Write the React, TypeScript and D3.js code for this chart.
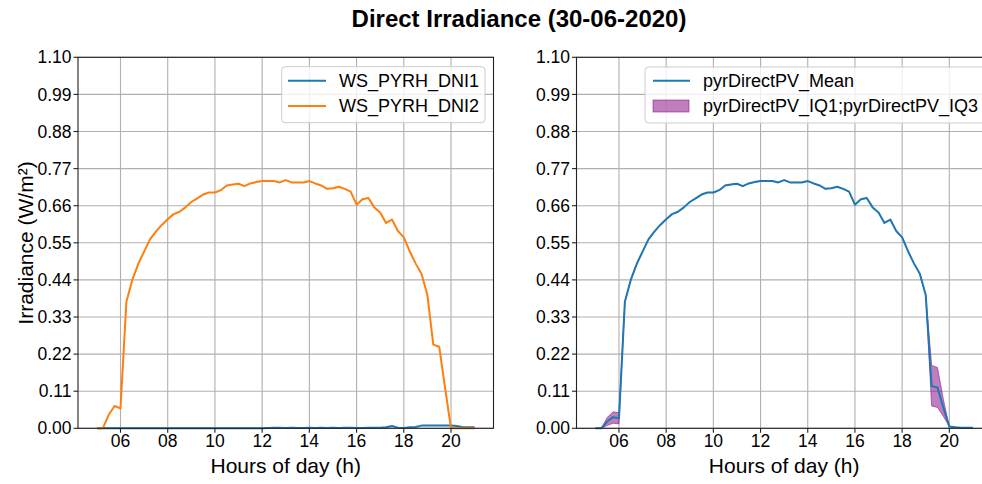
import React from "react";
import * as d3 from "d3";

const hours = [
  5.0, 5.25, 5.5, 5.75, 6.0, 6.25, 6.5, 6.75, 7.0, 7.25, 7.5, 7.75, 8.0, 8.25, 8.5, 8.75,
  9.0, 9.25, 9.5, 9.75, 10.0, 10.25, 10.5, 10.75, 11.0, 11.25, 11.5, 11.75, 12.0, 12.25, 12.5, 12.75,
  13.0, 13.25, 13.5, 13.75, 14.0, 14.25, 14.5, 14.75, 15.0, 15.25, 15.5, 15.75, 16.0, 16.25, 16.5, 16.75,
  17.0, 17.25, 17.5, 17.75, 18.0, 18.25, 18.5, 18.75, 19.0, 19.25, 19.5, 19.75, 20.0, 20.25, 20.5, 20.75, 21.0,
];

const dni1 = [
  0, 0, 0, 0, 0, 0, 0, 0, 0, 0, 0, 0, 0, 0, 0, 0,
  0, 0, 0, 0, 0, 0, 0, 0, 0, 0, 0, 0, 0, 0.001, 0.002, 0.002,
  0.001, 0.002, 0.001, 0.001, 0.002, 0.001, 0.002, 0.001, 0.002, 0.001, 0.002, 0.002, 0.001, 0.001, 0.002, 0.002,
  0.002, 0.003, 0.007, 0.002, 0.001, 0.003, 0.004, 0.008, 0.008, 0.008, 0.008, 0.008, 0.008, 0.007, 0.003, 0.003, 0.003,
];

const dni2 = [
  0, 0, 0.04, 0.066, 0.059, 0.375, 0.44, 0.487, 0.524, 0.56, 0.583, 0.603, 0.62, 0.635, 0.642, 0.655,
  0.671, 0.682, 0.693, 0.699, 0.699, 0.706, 0.72, 0.723, 0.725, 0.718, 0.726, 0.73, 0.733, 0.733, 0.733, 0.729,
  0.736, 0.729, 0.729, 0.729, 0.733, 0.726, 0.72, 0.71, 0.712, 0.716, 0.71, 0.702, 0.663, 0.679, 0.683, 0.655,
  0.64, 0.609, 0.619, 0.585, 0.566, 0.525, 0.489, 0.458, 0.395, 0.248, 0.242, 0.119, 0, 0, 0, 0, 0,
];

const pvMean = [
  0, 0, 0.02, 0.033, 0.03, 0.375, 0.44, 0.487, 0.524, 0.56, 0.583, 0.603, 0.62, 0.635, 0.642, 0.655,
  0.671, 0.682, 0.693, 0.699, 0.699, 0.706, 0.72, 0.723, 0.725, 0.718, 0.726, 0.73, 0.733, 0.733, 0.733, 0.729,
  0.736, 0.729, 0.729, 0.729, 0.733, 0.726, 0.72, 0.71, 0.712, 0.716, 0.71, 0.702, 0.663, 0.679, 0.683, 0.655,
  0.64, 0.609, 0.619, 0.585, 0.566, 0.525, 0.489, 0.458, 0.395, 0.125, 0.121, 0.06, 0.005, 0.003, 0.002, 0.002, 0.002,
];

const pvIQ1 = [
  0, 0, 0.008, 0.015, 0.013, 0.375, 0.44, 0.487, 0.524, 0.56, 0.583, 0.603, 0.62, 0.635, 0.642, 0.655,
  0.671, 0.682, 0.693, 0.699, 0.699, 0.706, 0.72, 0.723, 0.725, 0.718, 0.726, 0.73, 0.733, 0.733, 0.733, 0.729,
  0.736, 0.729, 0.729, 0.729, 0.733, 0.726, 0.72, 0.71, 0.712, 0.716, 0.71, 0.702, 0.663, 0.679, 0.683, 0.655,
  0.64, 0.609, 0.619, 0.585, 0.566, 0.525, 0.489, 0.458, 0.395, 0.066, 0.062, 0.035, 0.005, 0.003, 0.002, 0.002, 0.002,
];

const pvIQ3 = [
  0, 0, 0.032, 0.049, 0.046, 0.375, 0.44, 0.487, 0.524, 0.56, 0.583, 0.603, 0.62, 0.635, 0.642, 0.655,
  0.671, 0.682, 0.693, 0.699, 0.699, 0.706, 0.72, 0.723, 0.725, 0.718, 0.726, 0.73, 0.733, 0.733, 0.733, 0.729,
  0.736, 0.729, 0.729, 0.729, 0.733, 0.726, 0.72, 0.71, 0.712, 0.716, 0.71, 0.702, 0.663, 0.679, 0.683, 0.655,
  0.64, 0.609, 0.619, 0.585, 0.566, 0.525, 0.489, 0.458, 0.395, 0.187, 0.18, 0.085, 0.005, 0.003, 0.002, 0.002, 0.002,
];

const xTicks = [6, 8, 10, 12, 14, 16, 18, 20];
const yTicks = [0, 0.11, 0.22, 0.33, 0.44, 0.55, 0.66, 0.77, 0.88, 0.99, 1.1];

const title = "Direct Irradiance (30-06-2020)";
const xLabel = "Hours of day (h)";
const yLabel = "Irradiance (W/m²)";
const leftLegend = ["WS_PYRH_DNI1", "WS_PYRH_DNI2"];
const rightLegend = ["pyrDirectPV_Mean", "pyrDirectPV_IQ1;pyrDirectPV_IQ3"];

const FONT = "Arial, 'Liberation Sans', sans-serif";
const BLUE = "#1f77b4";
const ORANGE = "#ff7f0e";
const PURPLE = "#800080";
const GRID = "#b0b0b0";

const W = 982;
const H = 484;
const TOP = 57.3;
const BOTTOM = 428.3;

function Panel({ x0, x1, children }: { x0: number; x1: number; children: (x: d3.ScaleLinear<number, number>, y: d3.ScaleLinear<number, number>) => React.ReactNode }) {
  const x = d3.scaleLinear().domain([4.2, 21.8]).range([x0, x1]);
  const y = d3.scaleLinear().domain([0, 1.1]).range([BOTTOM, TOP]);
  const fmt = d3.format("02d");
  return (
    <g>
      {xTicks.map((t) => (
        <line key={"gx" + t} x1={x(t)} x2={x(t)} y1={TOP} y2={BOTTOM} stroke={GRID} strokeWidth={1.1} />
      ))}
      {yTicks.map((t) => (
        <line key={"gy" + t} x1={x0} x2={x1} y1={y(t)} y2={y(t)} stroke={GRID} strokeWidth={1.1} />
      ))}
      {children(x, y)}
      <rect x={x0} y={TOP} width={x1 - x0} height={BOTTOM - TOP} fill="none" stroke="#222" strokeWidth={1.1} />
      {xTicks.map((t) => (
        <g key={"tx" + t}>
          <line x1={x(t)} x2={x(t)} y1={BOTTOM} y2={BOTTOM + 4.5} stroke="#222" strokeWidth={1.1} />
          <text x={x(t)} y={BOTTOM + 18.5} textAnchor="middle" fontSize={17.5} fontFamily={FONT} fill="#000">
            {fmt(t)}
          </text>
        </g>
      ))}
      {yTicks.map((t) => (
        <g key={"ty" + t}>
          <line x1={x0 - 4.5} x2={x0} y1={y(t)} y2={y(t)} stroke="#222" strokeWidth={1.1} />
          <text x={x0 - 6.5} y={y(t)} dy="0.35em" textAnchor="end" fontSize={17.5} fontFamily={FONT} fill="#000">
            {t.toFixed(2)}
          </text>
        </g>
      ))}
      <text x={(x0 + x1) / 2} y={473} textAnchor="middle" fontSize={21} fontFamily={FONT} fill="#000">
        {xLabel}
      </text>
    </g>
  );
}

export default function App() {
  const mkLine = (xs: d3.ScaleLinear<number, number>, ys: d3.ScaleLinear<number, number>, vals: number[]) =>
    d3
      .line<number>()
      .x((_, i) => xs(hours[i]))
      .y((v) => ys(v))(vals) || "";

  return (
    <svg width={W} height={H} style={{ position: "absolute", left: 0, top: 0, display: "block", background: "#fff" }}>
      <rect x={0} y={0} width={W} height={H} fill="#fff" />
      <text x={519} y={27} textAnchor="middle" fontSize={24} fontWeight="bold" fontFamily={FONT} fill="#000">
        {title}
      </text>
      <text transform={`translate(33,243) rotate(-90)`} textAnchor="middle" fontSize={21} fontFamily={FONT} fill="#000">
        {yLabel}
      </text>

      <Panel x0={78} x1={493.5}>
        {(xs, ys) => (
          <g>
            <path d={mkLine(xs, ys, dni1)} fill="none" stroke={BLUE} strokeWidth={2} strokeLinejoin="round" />
            <path d={mkLine(xs, ys, dni2)} fill="none" stroke={ORANGE} strokeWidth={2} strokeLinejoin="round" />
          </g>
        )}
      </Panel>

      <Panel x0={576.5} x1={991.8}>
        {(xs, ys) => {
          const area =
            d3
              .area<number>()
              .x((_, i) => xs(hours[i]))
              .y0((_, i) => ys(pvIQ1[i]))
              .y1((_, i) => ys(pvIQ3[i]))(pvIQ1) || "";
          return (
            <g>
              <path d={area} fill={PURPLE} fillOpacity={0.5} stroke={PURPLE} strokeOpacity={0.5} strokeWidth={1} />
              <path d={mkLine(xs, ys, pvMean)} fill="none" stroke={BLUE} strokeWidth={2} strokeLinejoin="round" />
            </g>
          );
        }}
      </Panel>

      {/* left legend */}
      <g>
        <rect x={281.7} y={66.7} width={203.3} height={56} rx={3.5} fill="#fff" fillOpacity={0.8} stroke="#cccccc" strokeWidth={1} />
        <line x1={288} x2={326} y1={80.7} y2={80.7} stroke={BLUE} strokeWidth={2} />
        <line x1={288} x2={326} y1={106} y2={106} stroke={ORANGE} strokeWidth={2} />
        <text x={339} y={80.7} dy="0.35em" fontSize={18} fontFamily={FONT} fill="#000">{leftLegend[0]}</text>
        <text x={339} y={106} dy="0.35em" fontSize={18} fontFamily={FONT} fill="#000">{leftLegend[1]}</text>
      </g>

      {/* right legend */}
      <g>
        <rect x={645} y={67} width={345} height={56} rx={3.5} fill="#fff" fillOpacity={0.8} stroke="#cccccc" strokeWidth={1} />
        <line x1={653} x2={690} y1={80.7} y2={80.7} stroke={BLUE} strokeWidth={2} />
        <rect x={653} y={100} width={36} height={12} fill={PURPLE} fillOpacity={0.5} stroke={PURPLE} strokeOpacity={0.5} strokeWidth={1} />
        <text x={703} y={80.7} dy="0.35em" fontSize={18} fontFamily={FONT} fill="#000">{rightLegend[0]}</text>
        <text x={703} y={106} dy="0.35em" fontSize={18} fontFamily={FONT} fill="#000">{rightLegend[1]}</text>
      </g>
    </svg>
  );
}
